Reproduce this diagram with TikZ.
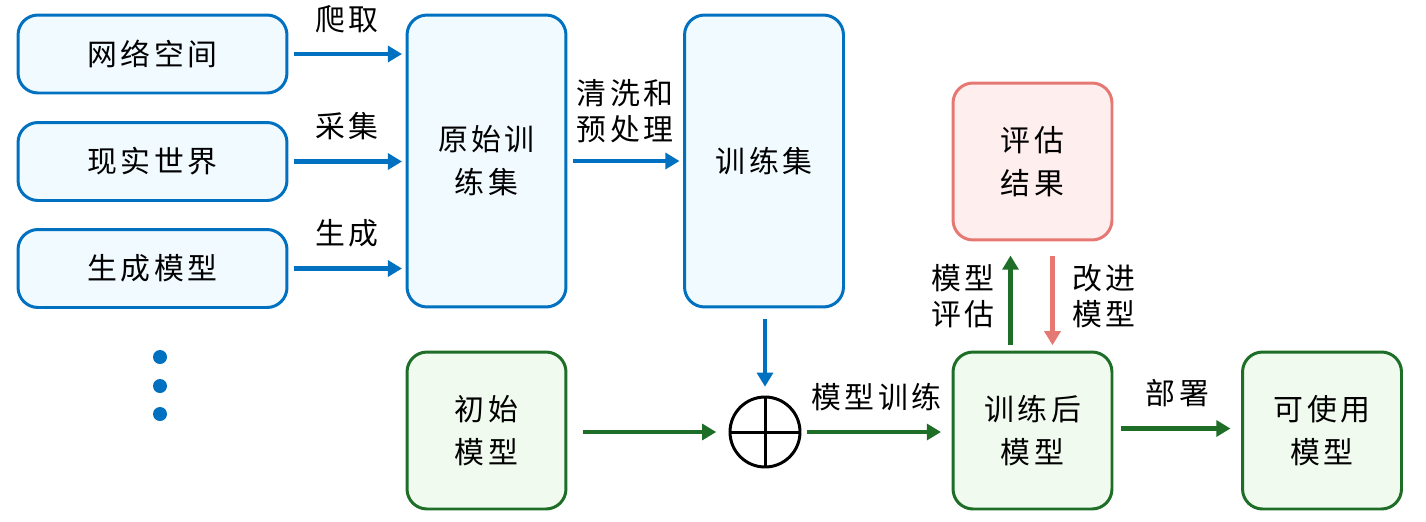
\documentclass[tikz,border=0pt]{standalone}
\usepackage{fontspec}
\newfontfamily\cjk[LetterSpace=12]{Noto Sans CJK SC}
\usetikzlibrary{arrows.meta,positioning}
\definecolor{myblue}{RGB}{0,112,192}
\definecolor{bluefill}{RGB}{240,250,255}
\definecolor{mygreen}{RGB}{30,110,40}
\definecolor{greenfill}{RGB}{240,250,238}
\definecolor{myred}{RGB}{230,120,115}
\definecolor{redfill}{RGB}{255,238,238}
\begin{document}
\begin{tikzpicture}[x=0.02cm, y=-0.02cm,
        box/.style={draw, line width=1.7pt, rounded corners=0.4cm, align=center,
            font=\cjk\fontsize{17}{24.5}\selectfont, inner sep=0pt},
        srcbox/.style={box, draw=myblue, fill=bluefill, minimum width=5.38cm, minimum height=1.56cm},
        tallbox/.style={box, draw=myblue, fill=bluefill, minimum width=3.18cm, minimum height=5.84cm},
        greenbox/.style={box, draw=mygreen, fill=greenfill, minimum width=3.18cm, minimum height=3.14cm},
        redbox/.style={box, draw=myred, fill=redfill, minimum width=3.18cm, minimum height=3.14cm},
        arr/.style={line width=2.3pt, -{Triangle[length=8pt, width=9pt]}},
        lbl/.style={align=center, text=black, font=\cjk\fontsize{17}{20.5}\selectfont, inner sep=0pt}]
        \useasboundingbox (0,0) rectangle (1426,521);
        % Nodes
        \node (net) [srcbox] at (152.5,54) {网络空间};
        \node (real) [srcbox] at (152.5,161.5) {现实世界};
        \node (gen) [srcbox] at (152.5,268.5) {生成模型};
        \node (raw) [tallbox] at (486.5,161) {原始训\\练集};
        \node (train) [tallbox] at (764,161) {训练集};
        \node (eval) [redbox] at (1032.5,161.5) {评估\\结果};
        \node (init) [greenbox] at (486.5,430.5) {初始\\模型};
        \node (plus) [draw, circle, line width=1.7pt, minimum size=1.4cm, inner sep=0pt] at (765,432) {};
        \node (trained) [greenbox] at (1032.5,430.5) {训练后\\模型};
        \node (usable) [greenbox] at (1322,430.5) {可使用\\模型};
        \draw[line width=1.7pt] (plus.north) -- (plus.south) (plus.west) -- (plus.east);
        \foreach \y in {357,386,414}
            \fill[myblue] (160,\y) circle (7);
        % Edges
        \draw[arr, myblue, shorten <=3pt, shorten >=2pt] (net.east) -- (net.east -| raw.west)
            node[lbl, midway, above=11pt] {爬取};
        \draw[arr, myblue, shorten <=3pt, shorten >=2pt] (real.east) -- (real.east -| raw.west)
            node[lbl, midway, above=11pt] {采集};
        \draw[arr, myblue, shorten <=3pt, shorten >=2pt] (gen.east) -- (gen.east -| raw.west)
            node[lbl, midway, above=11pt] {生成};
        \draw[arr, myblue, shorten <=3pt, shorten >=2pt] (raw.east) -- (train.west)
            node[lbl, midway, above=9pt] {清洗和\\预处理};
        \draw[arr, myblue, shorten <=6pt, shorten >=5pt] (train.south -| plus) -- (plus.north);
        \draw[arr, mygreen, shorten <=9pt, shorten >=7pt] (init.east |- plus) -- (plus.west);
        \draw[arr, mygreen, shorten <=3pt, shorten >=6pt] (plus.east) -- (plus.east -| trained.west)
            node[lbl, midway, above=11pt] {模型训练};
        \draw[arr, mygreen, shorten <=3pt, shorten >=8pt] ([xshift=-0.44cm]trained.north) -- ([xshift=-0.44cm]eval.south)
            node[lbl, midway, left=8pt] {模型\\评估};
        \draw[arr, myred, shorten <=8pt, shorten >=3pt] ([xshift=0.4cm]eval.south) -- ([xshift=0.4cm]trained.north)
            node[lbl, midway, right=10pt] {改进\\模型};
        \draw[arr, mygreen, shorten <=4pt, shorten >=6pt] ([yshift=0.04cm]trained.east) -- ([yshift=0.04cm]usable.west)
            node[lbl, midway, above=11pt] {部署};
    \end{tikzpicture}
\end{document}
